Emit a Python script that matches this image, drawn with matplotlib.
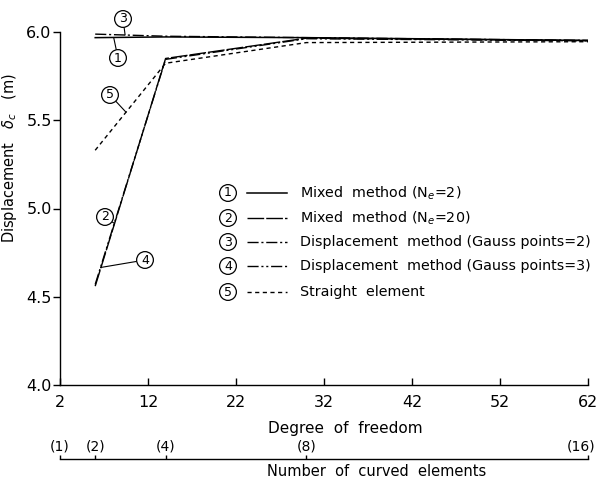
import numpy as np
import matplotlib
matplotlib.use("Agg")
import matplotlib.pyplot as plt
import matplotlib.transforms as mtrans
from matplotlib.lines import Line2D

# ---- data ----
dof = [6, 14, 30, 62]
mixed_ne2 = [5.968, 5.972, 5.968, 5.952]
mixed_ne20 = [4.56, 5.85, 5.965, 5.952]
disp_gp2 = [5.988, 5.976, 5.968, 5.952]
disp_gp3 = [4.57, 5.845, 5.962, 5.950]
straight = [5.33, 5.823, 5.940, 5.945]

x_ticks = [2, 12, 22, 32, 42, 52, 62]
y_ticks = [4.0, 4.5, 5.0, 5.5, 6.0]
n_elements = [1, 2, 4, 8, 16]
n_elem_dof = [2, 6, 14, 30, 62]

legend_nums = ["1", "2", "3", "4", "5"]
legend_texts = ["Mixed  method (N$_e$=2)",
                "Mixed  method (N$_e$=20)",
                "Displacement  method (Gauss points=2)",
                "Displacement  method (Gauss points=3)",
                "Straight  element"]

plt.rcParams['font.family'] = ['DejaVu Sans']
W, H = 598, 478
fig = plt.figure(figsize=(W / 100, H / 100), dpi=100)

L, R, T, B = 60, 588, 32, 385
ax = fig.add_axes([L / W, 1 - B / H, (R - L) / W, (B - T) / H])
ax.set_xlim(2, 62)
ax.set_ylim(4.0, 6.0)
for s in ['top', 'right']:
    ax.spines[s].set_visible(False)
for s in ['left', 'bottom']:
    ax.spines[s].set_linewidth(1.0)

styles = [
    dict(ls='-', lw=1.1),
    dict(ls=(0, (12, 1.5)), lw=1.0),
    dict(ls=(0, (8, 2, 1.5, 2)), lw=1.0),
    dict(ls=(0, (8, 2, 1.5, 2, 1.5, 2)), lw=1.0),
    dict(ls=(0, (3, 2.5)), lw=1.0),
]
series = [mixed_ne2, mixed_ne20, disp_gp2, disp_gp3, straight]
for ys, st in zip(series, styles):
    ax.plot(dof, ys, color='black', **st)

ax.set_xticks(x_ticks)
ax.set_xticklabels([str(v) for v in x_ticks])
ax.set_yticks(y_ticks)
ax.set_yticklabels([f"{v:.1f}" for v in y_ticks])
ax.tick_params(axis='x', direction='in', length=5, width=1, pad=7, labelsize=11.5)
ax.tick_params(axis='y', direction='out', length=5, width=1, pad=1, labelsize=11.5)

ax.set_xlabel("Degree  of  freedom", fontsize=11)
ax.xaxis.set_label_coords((345 - L) / (R - L), (B - 421) / (B - T))
ax.set_ylabel("Displacement   $\\delta_c$   (m)", fontsize=10.5)
ax.yaxis.set_label_coords((19 - L) / (R - L), (B - 158) / (B - T))

# circled labels on curves
circ = dict(boxstyle='circle,pad=0.15', fc='white', ec='black', lw=0.9)
def ann(num, ys, xpt, txt_xy):
    ypt = float(np.interp(xpt, dof, ys))
    ax.annotate(num, xy=(xpt, ypt), xytext=txt_xy, textcoords='data',
                fontsize=9, ha='center', va='center', bbox=circ,
                arrowprops=dict(arrowstyle='-', lw=0.8, color='black',
                                shrinkA=0, shrinkB=0),
                annotation_clip=False)

def px2d(px, py):
    return (2 + (px - L) / 8.8, 4 + (B - py) / 176.5)

ann("3", disp_gp2, 9.4, px2d(123, 19))
ann("1", mixed_ne2, 8.1, px2d(118, 58))
ann("5", straight, 9.5, px2d(110, 95))
ann("2", mixed_ne20, 8.2, px2d(105, 217))
ann("4", disp_gp3, 6.6, px2d(145, 260))

# legend drawn manually
leg_y = [193, 218, 242, 266, 292]
for num, text, st, py in zip(legend_nums, legend_texts, styles, leg_y):
    ya = (B - py) / (B - T)
    ax.text((228 - L) / (R - L), ya, num, transform=ax.transAxes, fontsize=9,
            ha='center', va='center', bbox=circ)
    ax.add_line(Line2D([(247 - L) / (R - L), (287 - L) / (R - L)], [ya, ya],
                       transform=ax.transAxes, color='black', **st))
    ax.text((300 - L) / (R - L), ya, text, transform=ax.transAxes,
            fontsize=10.3, ha='left', va='center')

# secondary scale: number of curved elements
yb = 459
ax2 = fig.add_axes([L / W, 1 - yb / H, (R - L) / W, 1e-4])
ax2.set_xlim(2, 62)
ax2.set_yticks([])
ax2.patch.set_visible(False)
for s in ['bottom', 'left', 'right']:
    ax2.spines[s].set_visible(False)
ax2.spines['top'].set_linewidth(1.0)
ax2.xaxis.set_ticks_position('top')
ax2.set_xticks(n_elem_dof)
ax2.set_xticklabels([f"({n})" for n in n_elements])
ax2.tick_params(axis='x', direction='out', length=3, width=1, pad=1, labelsize=10)
last = ax2.get_xticklabels(which='major')[-1]
last.set_transform(last.get_transform() + mtrans.ScaledTranslation(-7 / 100, 0, fig.dpi_scale_trans))

fig.text(377 / W, 1 - 472 / H, "Number  of  curved  elements",
         fontsize=10.5, ha='center', va='center')

fig.savefig("out.png", dpi=100)
